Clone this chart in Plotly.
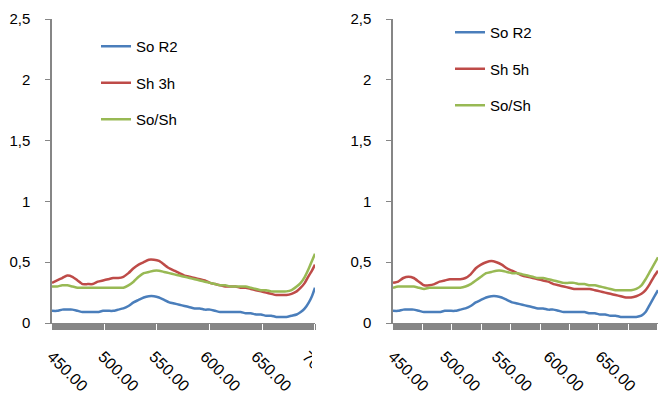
import plotly.graph_objects as go

# ---------------- data ----------------
wl_left = [450, 455, 460, 465, 470, 475, 480, 485, 490, 495, 500, 505, 510, 515, 520,
           525, 530, 535, 540, 545, 550, 555, 560, 565, 570, 575, 580, 585, 590, 595,
           600, 605, 610, 615, 620, 625, 630, 635, 640, 645, 650, 655, 660, 665, 670,
           675, 680, 685, 690, 694, 698, 702, 705, 708]
so_r2_left = [0.10, 0.10, 0.11, 0.11, 0.11, 0.10, 0.09, 0.09, 0.09, 0.09, 0.10, 0.10, 0.10, 0.11, 0.12,
              0.14, 0.17, 0.19, 0.21, 0.22, 0.22, 0.21, 0.19, 0.17, 0.16, 0.15, 0.14, 0.13, 0.12, 0.12,
              0.11, 0.11, 0.10, 0.09, 0.09, 0.09, 0.09, 0.09, 0.08, 0.08, 0.07, 0.07, 0.06, 0.06, 0.05,
              0.05, 0.05, 0.06, 0.07, 0.09, 0.12, 0.17, 0.22, 0.29]
sh_3h = [0.33, 0.35, 0.37, 0.39, 0.38, 0.35, 0.32, 0.32, 0.32, 0.34, 0.35, 0.36, 0.37, 0.37, 0.38,
         0.41, 0.45, 0.48, 0.50, 0.52, 0.52, 0.51, 0.48, 0.45, 0.43, 0.41, 0.39, 0.38, 0.37, 0.36,
         0.35, 0.33, 0.32, 0.31, 0.30, 0.30, 0.30, 0.29, 0.29, 0.28, 0.27, 0.26, 0.25, 0.24, 0.23,
         0.23, 0.23, 0.24, 0.26, 0.29, 0.33, 0.39, 0.43, 0.48]
so_sh_left = [0.30, 0.30, 0.31, 0.31, 0.30, 0.29, 0.29, 0.29, 0.29, 0.29, 0.29, 0.29, 0.29, 0.29, 0.29,
              0.31, 0.34, 0.38, 0.41, 0.42, 0.43, 0.43, 0.42, 0.41, 0.40, 0.39, 0.38, 0.37, 0.36, 0.35,
              0.34, 0.33, 0.32, 0.31, 0.31, 0.30, 0.30, 0.30, 0.30, 0.29, 0.28, 0.27, 0.27, 0.26, 0.26,
              0.26, 0.26, 0.27, 0.30, 0.33, 0.38, 0.45, 0.51, 0.57]

wl_right = [450, 455, 460, 465, 470, 475, 480, 485, 490, 495, 500, 505, 510, 515, 520,
            525, 530, 535, 540, 545, 550, 555, 560, 565, 570, 575, 580, 585, 590, 595,
            600, 605, 610, 615, 620, 625, 630, 635, 640, 645, 650, 655, 660, 665, 670,
            675, 680, 685, 690, 694, 698, 702, 706]
so_r2_right = [0.10, 0.10, 0.11, 0.11, 0.11, 0.10, 0.09, 0.09, 0.09, 0.09, 0.10, 0.10, 0.10, 0.11, 0.12,
               0.14, 0.17, 0.19, 0.21, 0.22, 0.22, 0.21, 0.19, 0.17, 0.16, 0.15, 0.14, 0.13, 0.12, 0.12,
               0.11, 0.11, 0.10, 0.09, 0.09, 0.09, 0.09, 0.09, 0.08, 0.08, 0.07, 0.07, 0.06, 0.06, 0.05,
               0.05, 0.05, 0.05, 0.06, 0.09, 0.15, 0.21, 0.27]
sh_5h = [0.33, 0.34, 0.37, 0.38, 0.37, 0.34, 0.31, 0.31, 0.32, 0.34, 0.35, 0.36, 0.36, 0.36, 0.37,
         0.40, 0.45, 0.48, 0.50, 0.51, 0.50, 0.48, 0.45, 0.43, 0.41, 0.39, 0.38, 0.37, 0.36, 0.35,
         0.34, 0.32, 0.31, 0.30, 0.29, 0.28, 0.28, 0.28, 0.28, 0.27, 0.26, 0.25, 0.24, 0.23, 0.22,
         0.21, 0.21, 0.22, 0.24, 0.27, 0.32, 0.38, 0.43]
so_sh_right = [0.29, 0.30, 0.30, 0.30, 0.30, 0.29, 0.28, 0.29, 0.29, 0.29, 0.29, 0.29, 0.29, 0.29, 0.30,
               0.32, 0.35, 0.38, 0.41, 0.42, 0.43, 0.43, 0.42, 0.41, 0.41, 0.40, 0.39, 0.38, 0.37, 0.37,
               0.36, 0.35, 0.34, 0.33, 0.33, 0.33, 0.32, 0.32, 0.31, 0.31, 0.30, 0.29, 0.28, 0.27, 0.27,
               0.27, 0.27, 0.28, 0.31, 0.36, 0.42, 0.48, 0.54]

y_ticks = [0, 0.5, 1, 1.5, 2, 2.5]
y_tick_labels = ["0", "0,5", "1", "1,5", "2", "2,5"]

BLUE = "#4A7EBB"
RED = "#BE4B48"
GREEN = "#98B954"
AXIS = "#868686"
FONT = "Liberation Sans"

W, H = 658, 394

fig = go.Figure()

def add(x, y, name, color, xa, ya, leg):
    fig.add_trace(go.Scatter(
        x=x, y=y, name=name, mode="lines",
        line=dict(color=color, width=2.5, shape="spline", smoothing=0.5),
        xaxis=xa, yaxis=ya, legend=leg, legendgroup=leg + name,
        hoverinfo="skip"))

add(wl_left, so_r2_left, "So R2", BLUE, "x", "y", "legend")
add(wl_left, sh_3h, "Sh 3h", RED, "x", "y", "legend")
add(wl_left, so_sh_left, "So/Sh", GREEN, "x", "y", "legend")
add(wl_right, so_r2_right, "So R2", BLUE, "x2", "y2", "legend2")
add(wl_right, sh_5h, "Sh 5h", RED, "x2", "y2", "legend2")
add(wl_right, so_sh_right, "So/Sh", GREEN, "x2", "y2", "legend2")

xcommon = dict(
    tickmode="linear", tick0=450, dtick=50, tickformat=".2f", tickangle=45,
    ticks="outside", ticklen=6, tickcolor=AXIS, tickwidth=1,
    minor=dict(ticks="outside", tickmode="linear", tick0=450, dtick=1,
               ticklen=6, tickcolor=AXIS, tickwidth=1),
    showline=True, linecolor=AXIS, linewidth=1,
    showgrid=False, zeroline=False, automargin=False,
    ticklabelstandoff=11,
    tickfont=dict(family=FONT, size=16, color="#000000"),
    fixedrange=True,
)
ycommon = dict(
    range=[0, 2.5], tickmode="array", tickvals=y_ticks, ticktext=y_tick_labels,
    ticks="outside", ticklen=5, tickcolor=AXIS, tickwidth=1,
    showline=True, linecolor=AXIS, linewidth=1.5,
    showgrid=False, zeroline=False, ticklabelstandoff=12, automargin=False,
    tickfont=dict(family=FONT, size=15, color="#000000"),
    domain=[71 / H, 375 / H], fixedrange=True,
)

legcommon = dict(font=dict(family=FONT, size=15, color="#000000"),
                 bgcolor="rgba(0,0,0,0)", borderwidth=0,
                 tracegroupgap=14, xanchor="left", yanchor="top")

fig.update_layout(
    width=W, height=H,
    margin=dict(l=0, r=0, t=0, b=0, autoexpand=False),
    paper_bgcolor="white", plot_bgcolor="white",
    showlegend=True,
    xaxis=dict(xcommon, domain=[52 / W, 315 / W], range=[450, 708], anchor="y"),
    yaxis=dict(ycommon, anchor="x"),
    xaxis2=dict(xcommon, domain=[393 / W, 1.0], range=[450, 706], anchor="y2"),
    yaxis2=dict(ycommon, anchor="x2"),
    legend=dict(legcommon, x=96 / W, y=(H - 30) / H),
    legend2=dict(legcommon, x=450 / W, y=(H - 16) / H),
    shapes=[dict(type="rect", xref="paper", yref="paper", layer="above",
                 x0=312 / W, x1=380 / W, y0=0, y1=(H - 334) / H,
                 fillcolor="white", line=dict(width=0))],
)

fig.write_html("out.html", config={"displayModeBar": False})
